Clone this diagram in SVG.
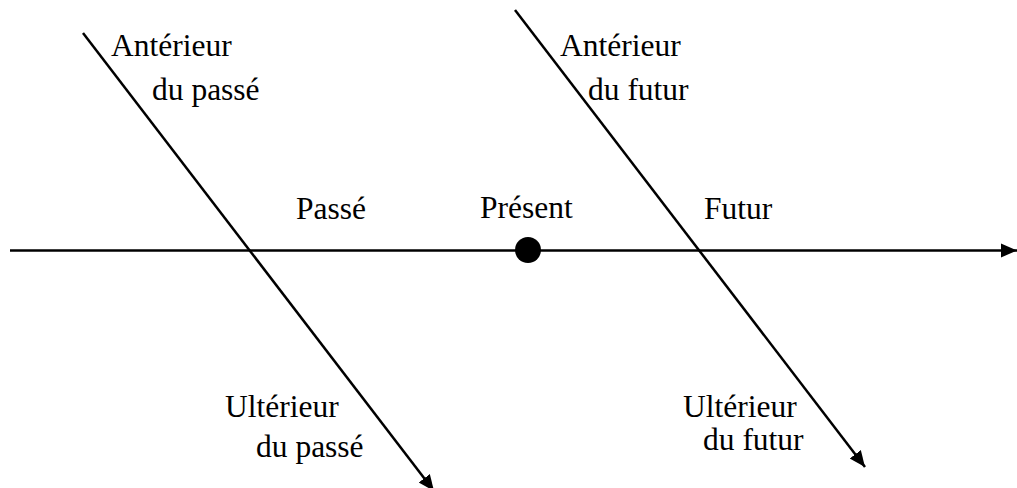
<svg xmlns="http://www.w3.org/2000/svg" width="1017" height="488" viewBox="0 0 1017 488">
<style>
.t{font-family:"Liberation Serif","Times New Roman",serif;font-size:31.5px;fill:#000}
.l{stroke:#000;stroke-width:2.5;fill:none}
</style>
<defs>
<marker id="ah" markerUnits="userSpaceOnUse" markerWidth="18" markerHeight="16" refX="16" refY="8" orient="auto">
<path d="M0,1 L16,8 L0,15 Z" fill="#000"/>
</marker>
</defs>
<rect width="1017" height="488" fill="#fff"/>
<g id="connectors">
<line class="l" x1="10" y1="250.5" x2="1017" y2="250.5" marker-end="url(#ah)"/>
<line class="l" x1="83" y1="33" x2="434" y2="491" marker-end="url(#ah)"/>
<line class="l" x1="515" y1="10" x2="865" y2="467" marker-end="url(#ah)"/>
</g>
<g id="present-dot"><circle cx="528" cy="250" r="13" fill="#000"/></g>
<g id="anterieur-passe"><text class="t" x="111" y="56">Antérieur</text><text class="t" x="152" y="100">du passé</text></g>
<g id="anterieur-futur"><text class="t" x="560" y="56">Antérieur</text><text class="t" x="588" y="100">du futur</text></g>
<g id="passe"><text class="t" x="296" y="219">Passé</text></g>
<g id="present"><text class="t" x="480" y="218">Présent</text></g>
<g id="futur"><text class="t" x="704" y="219">Futur</text></g>
<g id="ulterieur-passe"><text class="t" x="225" y="417">Ultérieur</text><text class="t" x="256" y="457">du passé</text></g>
<g id="ulterieur-futur"><text class="t" x="683" y="417">Ultérieur</text><text class="t" x="703" y="450">du futur</text></g>
</svg>
